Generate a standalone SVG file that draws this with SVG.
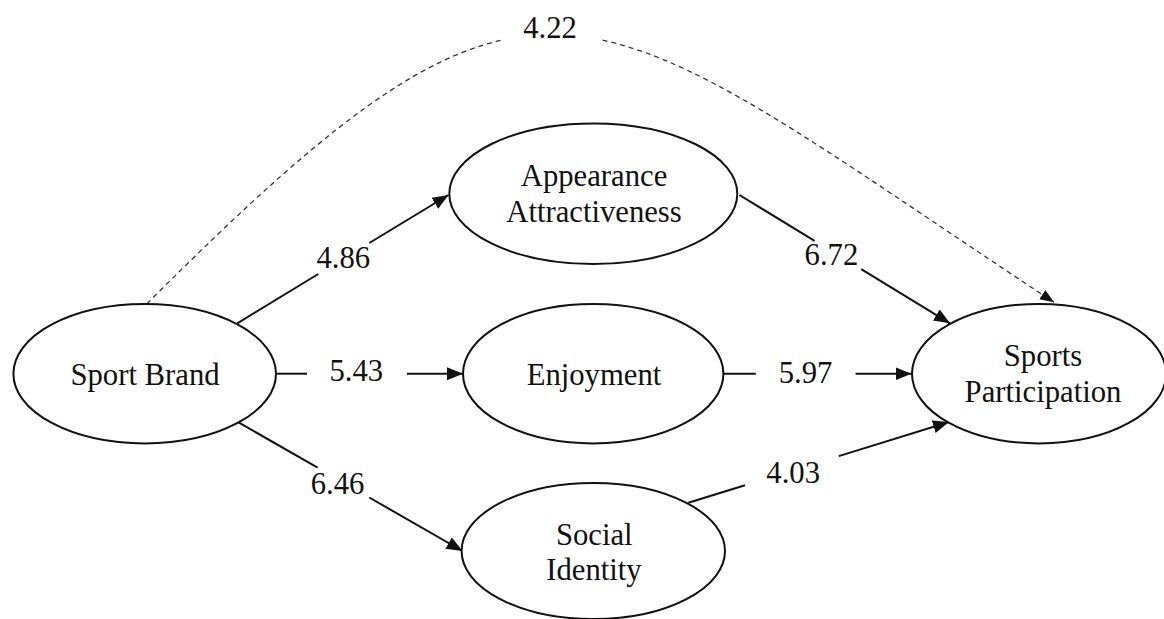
<svg xmlns="http://www.w3.org/2000/svg" width="1164" height="619" viewBox="0 0 1164 619">
<style>
  .node { fill: #ffffff; stroke: #111111; stroke-width: 2; }
  .lbl { font-family: "Liberation Serif", "Times New Roman", serif; font-size: 30.7px; fill: #111111; text-anchor: middle; }
  .edge { stroke: #111111; stroke-width: 2; fill: none; }
  .dash { stroke: #333333; stroke-width: 1.3; fill: none; stroke-dasharray: 5 4; }
</style>
<defs>
  <marker id="arr" markerUnits="userSpaceOnUse" markerWidth="17" markerHeight="14" refX="16" refY="6.5" orient="auto">
    <path d="M0,0 L16,6.5 L0,13 z" fill="#111111"/>
  </marker>
  <marker id="arrd" markerUnits="userSpaceOnUse" markerWidth="15" markerHeight="12" refX="14" refY="5.5" orient="auto">
    <path d="M0,0 L14,5.5 L0,11 z" fill="#111111"/>
  </marker>
</defs>
<rect x="0" y="0" width="1164" height="619" fill="#ffffff"/>

<g id="connectors">
  <path class="dash" d="M146.7,304 C546,-96 578,-11.5 1054,302.3" marker-end="url(#arrd)"/>
  <rect x="501" y="10" width="100" height="45" fill="#ffffff"/>
  <text class="lbl" x="550" y="38.3">4.22</text>

  <line class="edge" x1="237.3" y1="323.3" x2="318.3" y2="274"/>
  <line class="edge" x1="369.3" y1="243" x2="448.5" y2="195" marker-end="url(#arr)"/>
  <text class="lbl" x="343.3" y="268.3">4.86</text>

  <line class="edge" x1="276" y1="373.7" x2="307" y2="373.7"/>
  <line class="edge" x1="407" y1="373.7" x2="463" y2="373.7" marker-end="url(#arr)"/>
  <text class="lbl" x="356.3" y="380.5">5.43</text>

  <line class="edge" x1="237.3" y1="421.7" x2="317.6" y2="467.7"/>
  <line class="edge" x1="369.3" y1="497.5" x2="462.5" y2="551" marker-end="url(#arr)"/>
  <text class="lbl" x="337.5" y="494.3">6.46</text>

  <line class="edge" x1="739.4" y1="195" x2="814.6" y2="240.8"/>
  <line class="edge" x1="861.2" y1="269.2" x2="950" y2="323.3" marker-end="url(#arr)"/>
  <text class="lbl" x="831.4" y="265">6.72</text>

  <line class="edge" x1="723.4" y1="373.7" x2="755.8" y2="373.7"/>
  <line class="edge" x1="855.6" y1="373.7" x2="911.5" y2="373.7" marker-end="url(#arr)"/>
  <text class="lbl" x="805.5" y="382.7">5.97</text>

  <line class="edge" x1="688.3" y1="502.7" x2="745" y2="485.2"/>
  <line class="edge" x1="838.8" y1="456.1" x2="949" y2="422" marker-end="url(#arr)"/>
  <text class="lbl" x="793.2" y="482.7">4.03</text>
</g>

<g id="sport-brand">
  <ellipse class="node" cx="144.7" cy="373.7" rx="131.3" ry="69.7"/>
  <text class="lbl" x="145" y="385">Sport Brand</text>
</g>

<g id="appearance-attractiveness">
  <ellipse class="node" cx="593.3" cy="193.7" rx="144" ry="70.3"/>
  <text class="lbl" x="594" y="186">Appearance</text>
  <text class="lbl" x="594" y="221.7">Attractiveness</text>
</g>

<g id="enjoyment">
  <ellipse class="node" cx="593.2" cy="373.7" rx="130.2" ry="69.7"/>
  <text class="lbl" x="594" y="385">Enjoyment</text>
</g>

<g id="social-identity">
  <ellipse class="node" cx="593.3" cy="551" rx="131.7" ry="68"/>
  <text class="lbl" x="594.3" y="545">Social</text>
  <text class="lbl" x="594" y="580">Identity</text>
</g>

<g id="sports-participation">
  <ellipse class="node" cx="1039" cy="373.7" rx="127" ry="69.7"/>
  <text class="lbl" x="1043" y="366">Sports</text>
  <text class="lbl" x="1043" y="401.7">Participation</text>
</g>
</svg>
